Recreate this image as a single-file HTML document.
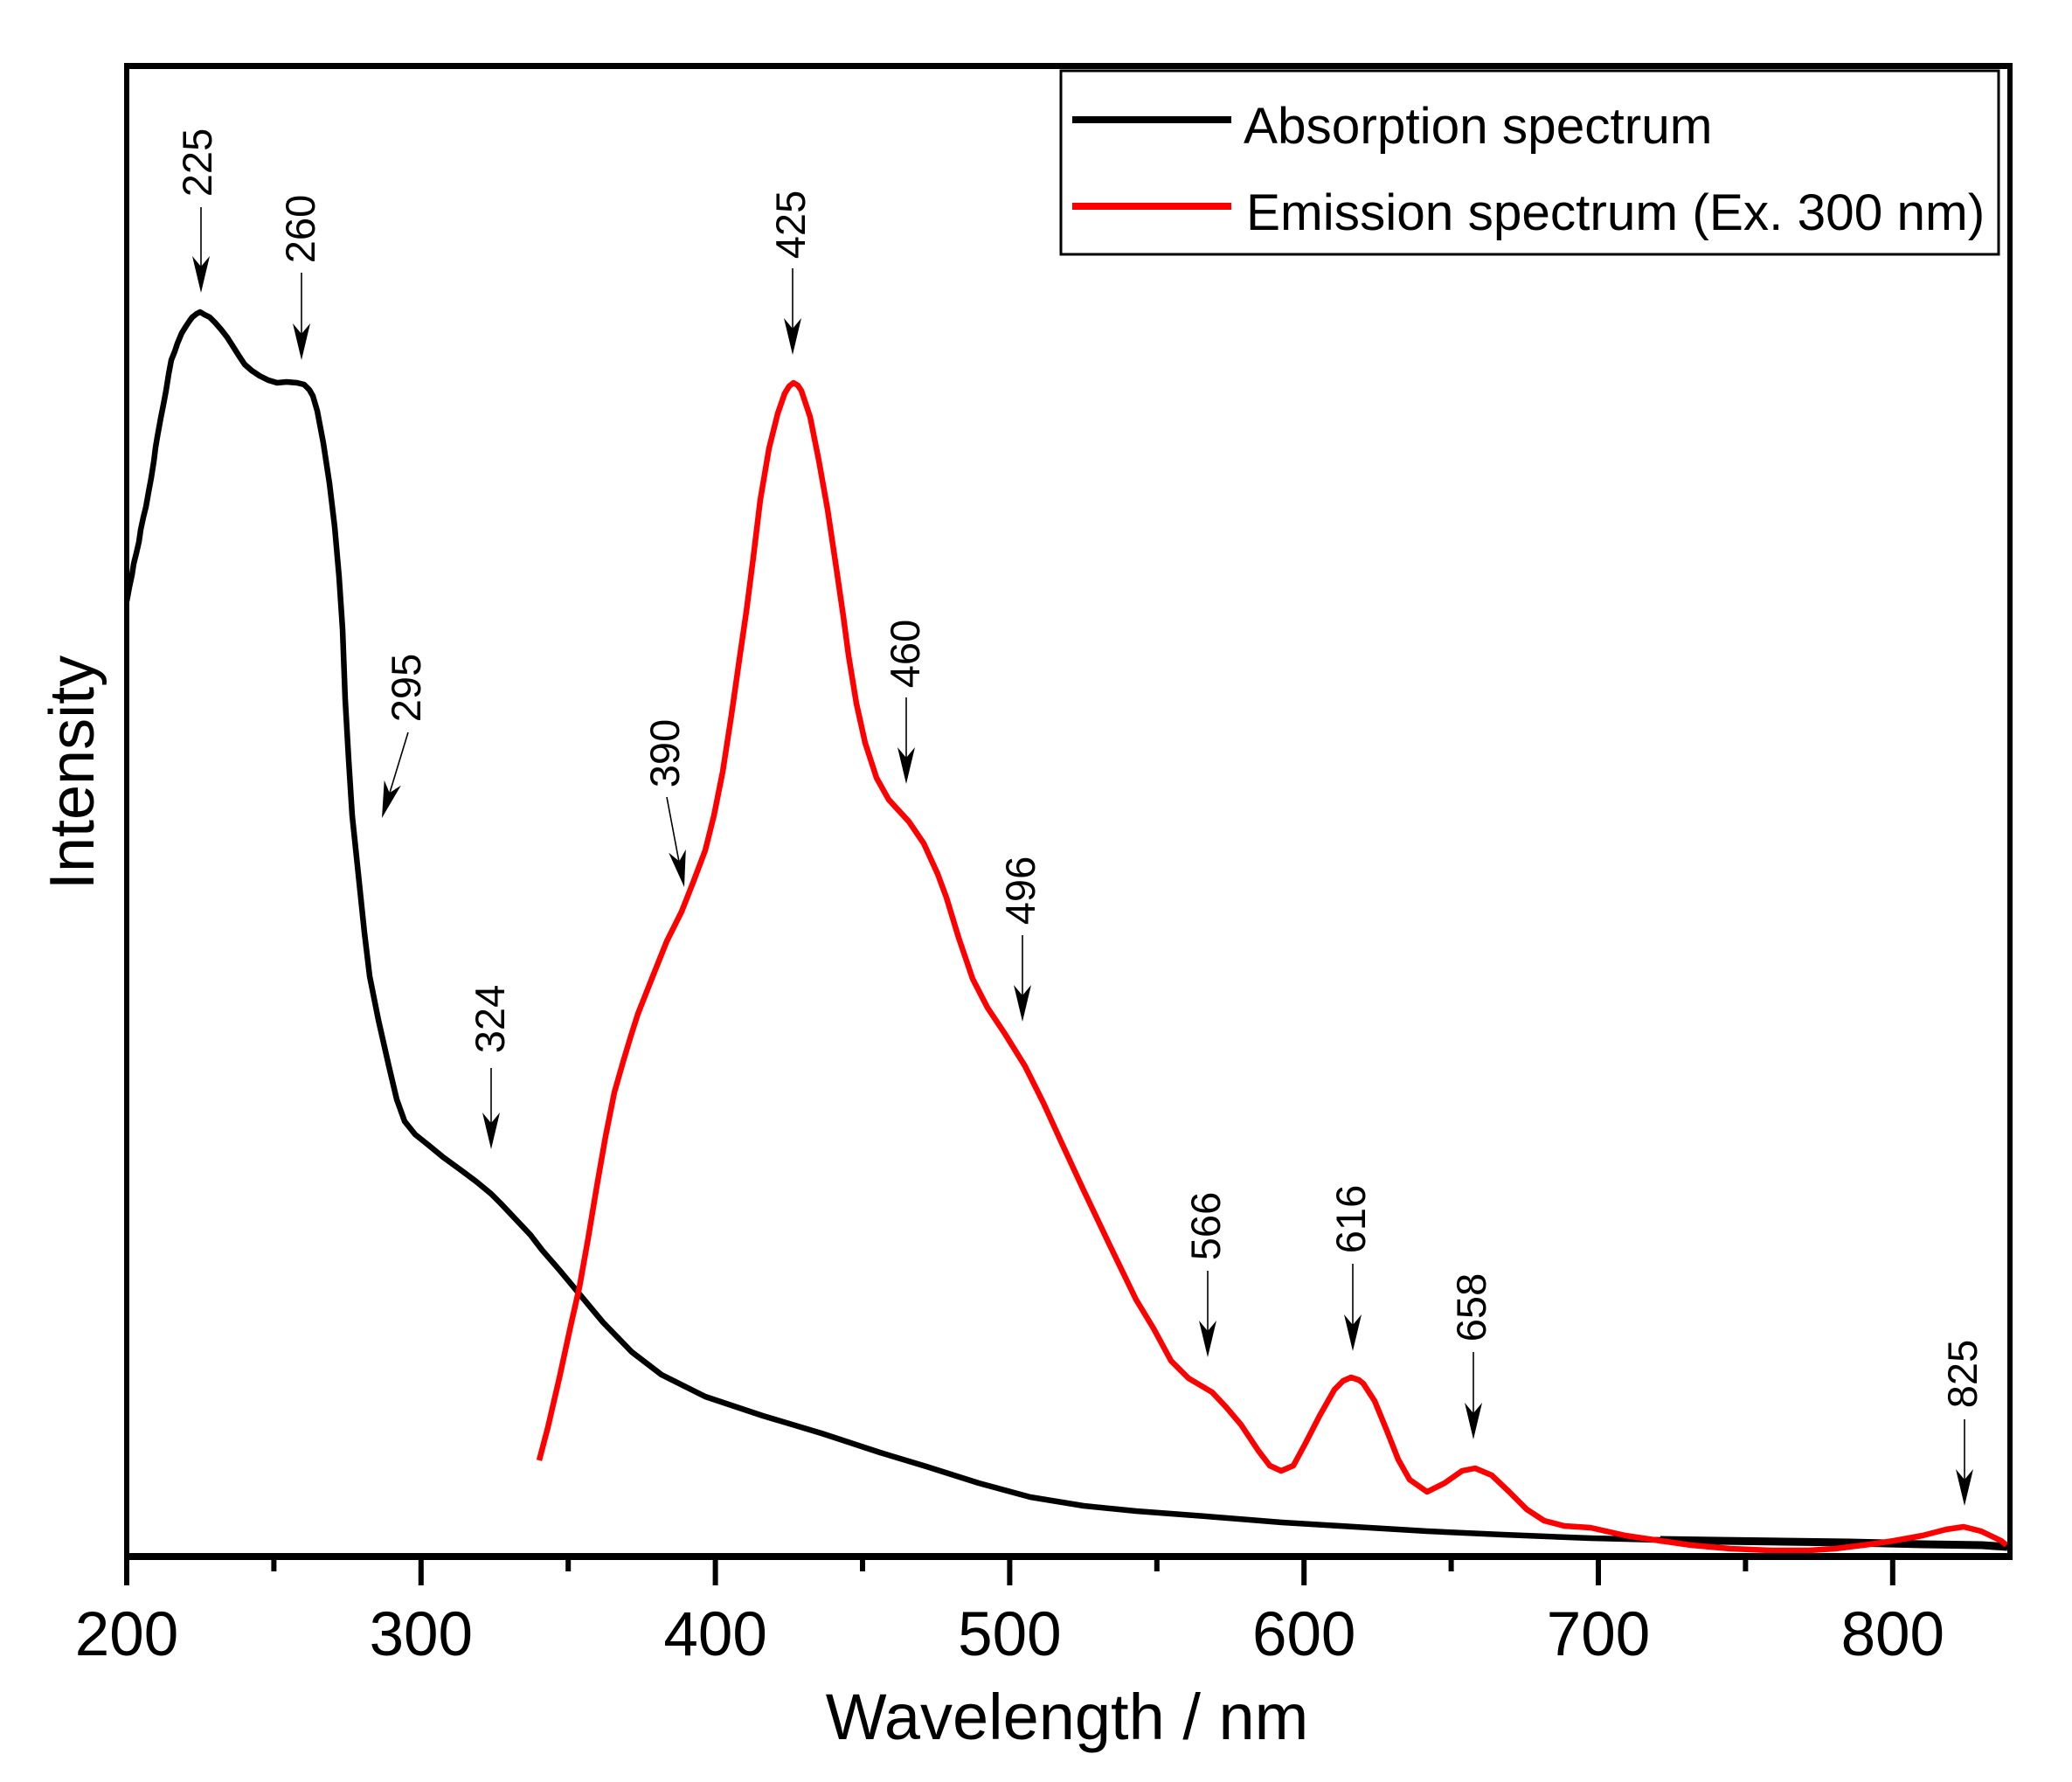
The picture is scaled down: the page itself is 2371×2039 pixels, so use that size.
<!DOCTYPE html>
<html>
<head>
<meta charset="utf-8">
<style>
  html, body { margin: 0; padding: 0; background: #fff; }
  svg { display: block; }
  text { font-family: "Liberation Sans", Arial, sans-serif; fill: #000; }
</style>
</head>
<body>
<svg width="2371" height="2039" viewBox="0 0 2371 2039" xmlns="http://www.w3.org/2000/svg">
  <rect x="0" y="0" width="2371" height="2039" fill="#fff"/>

  <!-- Absorption spectrum (black) -->
  <polyline fill="none" stroke="#000" stroke-width="6.5" stroke-linejoin="round" stroke-linecap="butt"
    points="145,688 148,672 151,658 153,645 156,633 159,620 161,606 164,592 167,580 170,563 173,547 176,528 178,512 180,500 184,478 187,463 190,447 193,428 196,412 200,402 203,393 208,381 213,373 217,367 220,363 225,359 229,357 234,360 240,363 246,369 253,377 260,386 267,397 274,408 280,417 288,424 297,430 307,435 317,438 328,437 340,438 348,440 354,446 358,453 363,470 370,507 377,553 383,603 388,660 392,720 395,800 399,870 403,933 410,1000 417,1067 423,1117 433,1167 445,1220 454,1258 463,1283 475,1298 490,1310 507,1324 529,1340 545,1352 562,1366 573,1377 590,1395 607,1413 620,1430 640,1453 660,1477 690,1513 723,1547 757,1573 807,1598 873,1620 940,1640 1007,1662 1060,1678 1120,1697 1179,1713 1240,1723 1300,1729 1380,1735 1467,1742 1550,1747 1633,1752 1720,1756 1820,1760 1900,1762 1966,1763 2040,1764 2117,1765 2200,1767 2268,1768 2297,1770"/>
  <polyline fill="none" stroke="#000" stroke-width="9" stroke-linejoin="round"
    points="1900,1762 1966,1763 2040,1764 2117,1765 2200,1767 2268,1768 2297,1770"/>

  <!-- Emission spectrum (red) -->
  <polyline fill="none" stroke="#ff0000" stroke-width="6.5" stroke-linejoin="round" stroke-linecap="butt"
    points="617,1671 627,1633 640,1577 653,1517 663,1473 673,1417 683,1357 693,1300 703,1250 713,1215 722,1185 730,1160 747,1117 763,1077 780,1043 793,1010 807,973 817,933 827,883 837,818 846,755 854,700 862,638 870,572 880,513 890,473 898,450 903,442 908,438 913,441 917,447 927,477 937,527 947,583 957,650 965,705 971,750 980,805 990,850 1003,890 1017,915 1028,927 1040,940 1057,965 1073,1000 1083,1027 1097,1073 1113,1120 1130,1153 1150,1183 1173,1220 1194,1262 1215,1308 1240,1362 1270,1425 1300,1487 1320,1520 1340,1557 1360,1577 1387,1593 1403,1610 1420,1630 1440,1660 1453,1677 1466,1683 1480,1677 1493,1653 1510,1620 1527,1590 1537,1580 1546,1576 1555,1579 1560,1583 1573,1603 1587,1637 1600,1670 1613,1693 1633,1707 1653,1697 1673,1683 1688,1680 1707,1688 1727,1707 1747,1727 1767,1740 1790,1746 1820,1748 1860,1757 1900,1763 1935,1768 1980,1772 2026,1774 2070,1774 2100,1772 2140,1767 2167,1763 2200,1757 2227,1750 2247,1747 2267,1752 2290,1763 2296,1768"/>

  <!-- Frame -->
  <line x1="142" y1="75.5" x2="2303" y2="75.5" stroke="#000" stroke-width="7"/>
  <line x1="145" y1="72" x2="145" y2="1814" stroke="#000" stroke-width="6"/>
  <line x1="2300" y1="72" x2="2300" y2="1785" stroke="#000" stroke-width="6"/>
  <line x1="142" y1="1781" x2="2303" y2="1781" stroke="#000" stroke-width="8"/>

  <!-- Major ticks -->
  <g stroke="#000" stroke-width="6">
    <line x1="481.8" y1="1781" x2="481.8" y2="1814"/>
    <line x1="818.6" y1="1781" x2="818.6" y2="1814"/>
    <line x1="1155.4" y1="1781" x2="1155.4" y2="1814"/>
    <line x1="1492.2" y1="1781" x2="1492.2" y2="1814"/>
    <line x1="1829" y1="1781" x2="1829" y2="1814"/>
    <line x1="2165.8" y1="1781" x2="2165.8" y2="1814"/>
  </g>
  <!-- Minor ticks -->
  <g stroke="#000" stroke-width="6">
    <line x1="313.4" y1="1781" x2="313.4" y2="1798"/>
    <line x1="650.2" y1="1781" x2="650.2" y2="1798"/>
    <line x1="987" y1="1781" x2="987" y2="1798"/>
    <line x1="1323.8" y1="1781" x2="1323.8" y2="1798"/>
    <line x1="1660.6" y1="1781" x2="1660.6" y2="1798"/>
    <line x1="1997.4" y1="1781" x2="1997.4" y2="1798"/>
  </g>

  <!-- Tick labels -->
  <g font-size="71" text-anchor="middle">
    <text x="145" y="1894">200</text>
    <text x="481.8" y="1894">300</text>
    <text x="818.6" y="1894">400</text>
    <text x="1155.4" y="1894">500</text>
    <text x="1492.2" y="1894">600</text>
    <text x="1829" y="1894">700</text>
    <text x="2165.8" y="1894">800</text>
  </g>

  <!-- Axis titles -->
  <text x="1221" y="1990" font-size="74" text-anchor="middle">Wavelength / nm</text>
  <text transform="translate(107,884) rotate(-90)" font-size="72" text-anchor="middle">Intensity</text>

  <!-- Legend -->
  <rect x="1214" y="81" width="1073" height="210" fill="#fff" stroke="#000" stroke-width="3"/>
  <line x1="1227" y1="137" x2="1409" y2="137" stroke="#000" stroke-width="8"/>
  <line x1="1227" y1="236" x2="1409" y2="236" stroke="#ff0000" stroke-width="8"/>
  <text x="1423" y="164" font-size="58.5">Absorption spectrum</text>
  <text x="1426" y="263" font-size="58.5">Emission spectrum (Ex. 300 nm)</text>

  <!-- Annotation labels -->
  <g font-size="47" text-anchor="middle">
    <text transform="translate(242,186) rotate(-90)">225</text>
    <text transform="translate(360,262) rotate(-90)">260</text>
    <text transform="translate(481,787) rotate(-90)">295</text>
    <text transform="translate(577,1166) rotate(-90)">324</text>
    <text transform="translate(777,862) rotate(-90)">390</text>
    <text transform="translate(921,257) rotate(-90)">425</text>
    <text transform="translate(1052,748) rotate(-90)">460</text>
    <text transform="translate(1184,1019) rotate(-90)">496</text>
    <text transform="translate(1396,1403) rotate(-90)">566</text>
    <text transform="translate(1562,1395) rotate(-90)">616</text>
    <text transform="translate(1700,1496) rotate(-90)">658</text>
    <text transform="translate(2262,1572) rotate(-90)">825</text>
  </g>

  <!-- Arrows -->
  <g stroke="#000" stroke-width="1.6">
    <line x1="230" y1="237" x2="230" y2="310"/>
    <line x1="345" y1="312" x2="345" y2="385"/>
    <line x1="467" y1="838" x2="446" y2="907"/>
    <line x1="562" y1="1222" x2="562" y2="1287"/>
    <line x1="763" y1="912" x2="777" y2="986"/>
    <line x1="907" y1="307" x2="907" y2="378"/>
    <line x1="1037" y1="798" x2="1037" y2="869"/>
    <line x1="1170" y1="1070" x2="1170" y2="1141"/>
    <line x1="1382" y1="1454" x2="1382" y2="1525"/>
    <line x1="1548" y1="1446" x2="1548" y2="1518"/>
    <line x1="1686" y1="1547" x2="1686" y2="1619"/>
    <line x1="2248" y1="1624" x2="2248" y2="1695"/>
  </g>
  <g fill="#000">
    <path transform="translate(230,335)" d="M0,0 L-10,-42 L0,-30 L10,-42 Z"/>
    <path transform="translate(345,412)" d="M0,0 L-10,-42 L0,-30 L10,-42 Z"/>
    <path transform="translate(437,936) rotate(17)" d="M0,0 L-10,-42 L0,-30 L10,-42 Z"/>
    <path transform="translate(562,1315)" d="M0,0 L-10,-42 L0,-30 L10,-42 Z"/>
    <path transform="translate(783,1015) rotate(-11)" d="M0,0 L-10,-42 L0,-30 L10,-42 Z"/>
    <path transform="translate(907,406)" d="M0,0 L-10,-42 L0,-30 L10,-42 Z"/>
    <path transform="translate(1037,897)" d="M0,0 L-10,-42 L0,-30 L10,-42 Z"/>
    <path transform="translate(1170,1169)" d="M0,0 L-10,-42 L0,-30 L10,-42 Z"/>
    <path transform="translate(1382,1553)" d="M0,0 L-10,-42 L0,-30 L10,-42 Z"/>
    <path transform="translate(1548,1546)" d="M0,0 L-10,-42 L0,-30 L10,-42 Z"/>
    <path transform="translate(1686,1647)" d="M0,0 L-10,-42 L0,-30 L10,-42 Z"/>
    <path transform="translate(2248,1723)" d="M0,0 L-10,-42 L0,-30 L10,-42 Z"/>
  </g>
</svg>
</body>
</html>
